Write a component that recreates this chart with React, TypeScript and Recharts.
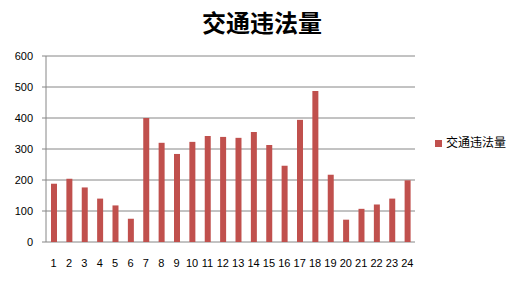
import { Bar, BarChart, CartesianGrid, Legend, XAxis, YAxis } from "recharts";

const hours = [
  "1", "2", "3", "4", "5", "6", "7", "8", "9", "10", "11", "12",
  "13", "14", "15", "16", "17", "18", "19", "20", "21", "22", "23", "24",
];
const violations = [
  188, 204, 176, 140, 118, 75, 400, 320, 284, 323, 342, 339,
  336, 355, 313, 246, 394, 487, 217, 72, 107, 121, 140, 199,
];
const yTicks = [0, 100, 200, 300, 400, 500, 600];
const edgeTicks = Array.from({ length: hours.length + 1 }, (_, i) => i);

const data = hours.map((h, i) => ({ hour: h, 交通违法量: violations[i] }));

const gridColor = "#868686";
const barColor = "#C0504D";
const labelFont = { fontSize: 11, fontFamily: "Liberation Sans, Arial, sans-serif", fill: "#000" };

export default function App() {
  return (
    <div style={{ position: "absolute", left: 0, top: 0, width: 524, height: 283, background: "#fff" }}>
      <div
        style={{
          position: "absolute",
          left: 0,
          width: 524,
          top: 6,
          textAlign: "center",
          fontFamily: "Noto Sans CJK SC, sans-serif",
          fontSize: 24,
          fontWeight: 700,
          lineHeight: "32px",
          color: "#000",
        }}
      >
        交通违法量
      </div>
      <BarChart
        width={524}
        height={283}
        data={data}
        margin={{ top: 56, right: 28, bottom: 0, left: 0 }}
        barSize={6}
      >
        <CartesianGrid vertical={false} stroke={gridColor} strokeDasharray="" />
        <XAxis
          xAxisId="edge"
          type="number"
          domain={[0, hours.length]}
          ticks={edgeTicks}
          tick={false}
          tickSize={5}
          tickLine={{ stroke: gridColor }}
          axisLine={{ stroke: gridColor }}
          height={0}
          allowDataOverflow
        />
        <XAxis
          xAxisId="cat"
          dataKey="hour"
          interval={0}
          tickLine={false}
          axisLine={false}
          tickSize={5}
          tickMargin={12}
          tick={labelFont}
          height={41}
        />
        <YAxis
          domain={[0, 600]}
          ticks={yTicks}
          tickSize={4}
          tickMargin={9}
          tickLine={{ stroke: gridColor }}
          axisLine={{ stroke: gridColor }}
          tick={labelFont}
          width={46}
        />
        <Legend
          layout="vertical"
          align="right"
          verticalAlign="middle"
          iconType="square"
          iconSize={7}
          wrapperStyle={{ right: 8, fontFamily: "Noto Sans CJK SC, sans-serif", fontSize: 12, color: "#000" }}
          formatter={(v: string) => <span style={{ color: "#000" }}>{v}</span>}
        />
        <Bar xAxisId="cat" dataKey="交通违法量" fill={barColor} isAnimationActive={false} />
      </BarChart>
    </div>
  );
}
